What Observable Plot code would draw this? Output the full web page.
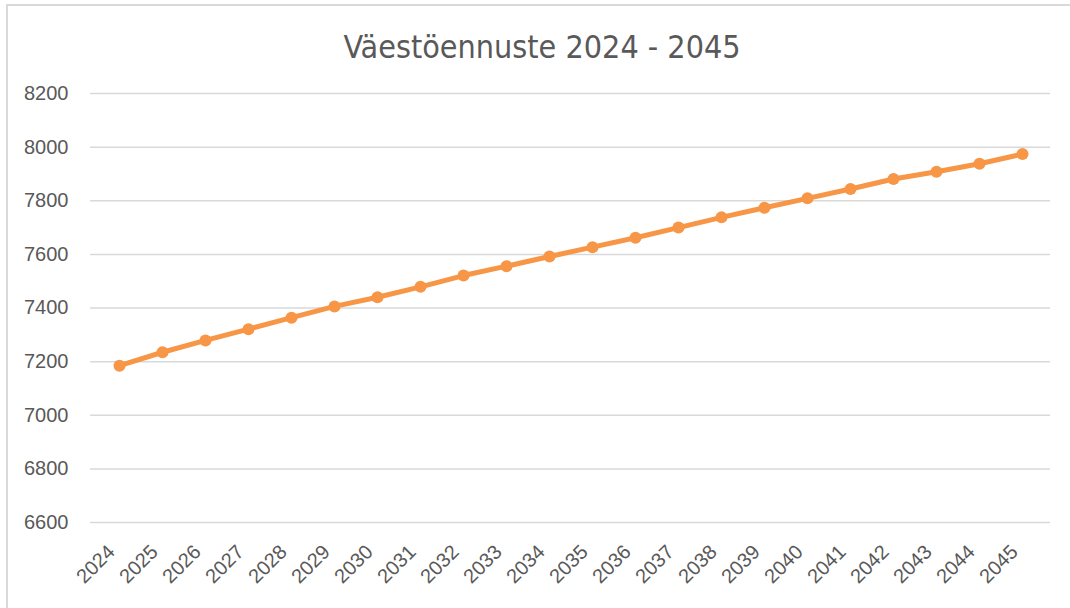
<!DOCTYPE html>
<html><head><meta charset="utf-8">
<script src="https://cdn.jsdelivr.net/npm/d3@7"></script>
<script src="https://cdn.jsdelivr.net/npm/@observablehq/plot@0.6"></script>
<style>
body{margin:0;background:#fff;}
#wrap{position:relative;width:1070px;height:608px;overflow:hidden;background:#fff;}
#bt{position:absolute;left:6px;top:4px;width:1064px;height:2px;background:#d9d9d9;}
#bl{position:absolute;left:6px;top:4px;width:2px;height:604px;background:#d9d9d9;}
#title{position:absolute;left:14px;top:27px;width:1056px;line-height:40px;text-align:center;
  font-family:"Liberation Sans Narrow","DejaVu Sans Condensed",sans-serif;font-size:32px;color:#595959;}
#chart{position:absolute;left:0;top:80px;}
</style></head>
<body><div id="wrap"><div id="bt"></div><div id="bl"></div>
<div id="title">Väestöennuste 2024 - 2045</div>
<div id="chart"></div></div>
<script>
const years = ["2024","2025","2026","2027","2028","2029","2030","2031","2032","2033","2034","2035","2036","2037","2038","2039","2040","2041","2042","2043","2044","2045"];
const population = [7185,7235,7279,7321,7364,7406,7440,7479,7521,7556,7592,7627,7662,7700,7738,7774,7809,7844,7881,7908,7938,7974];
const yTicks = [6600,6800,7000,7200,7400,7600,7800,8000,8200];
const data = years.map((y,i)=>({year:y, value:population[i]}));
const chart = Plot.plot({
  width:1070, height:528,
  marginLeft:90, marginRight:20, marginTop:13, marginBottom:86,
  style:{fontFamily:"'Liberation Sans',sans-serif", fontSize:"20px", color:"#595959", background:"transparent"},
  x:{type:"point", domain:years, padding:0.5},
  y:{domain:[6600,8200]},
  marks:[
    Plot.gridY(yTicks,{stroke:"#d9d9d9", strokeOpacity:1, strokeWidth:1.5}),
    Plot.axisY(yTicks,{tickSize:0, tickPadding:22, tickFormat:d=>String(d), label:null, fontSize:20}),
    Plot.axisX({tickSize:0, tickPadding:26, dx:-8, tickRotate:-45, label:null, fontSize:20}),
    Plot.lineY(data,{x:"year", y:"value", stroke:"#F79646", strokeWidth:5}),
    Plot.dot(data,{x:"year", y:"value", r:6, fill:"#F79646", stroke:"none"})
  ]
});
document.getElementById("chart").appendChild(chart);
</script></body></html>
